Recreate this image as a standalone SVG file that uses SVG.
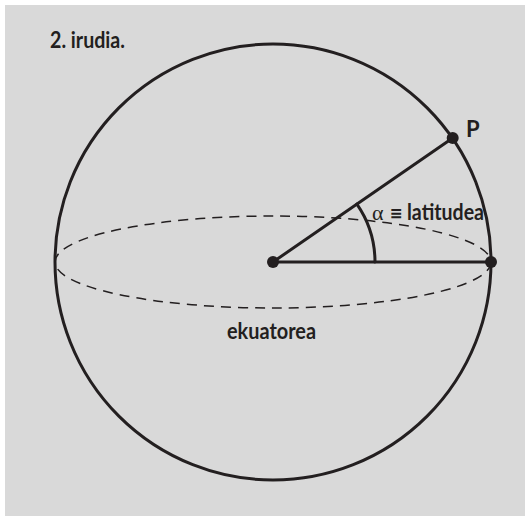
<svg xmlns="http://www.w3.org/2000/svg" width="525" height="516" viewBox="0 0 525 516">
<style>
.ln{fill:none;stroke:#231f20;stroke-width:3;stroke-linecap:round}
.dash{fill:none;stroke:#231f20;stroke-width:1.5;stroke-dasharray:10 7}
.dot{fill:#231f20}
.lbl{font-family:Lato,"Open Sans","Liberation Sans",sans-serif;font-weight:bold;font-size:22px;fill:#231f20}
</style>
<rect x="0" y="0" width="525" height="516" fill="#ffffff"/>
<rect x="5" y="5" width="520" height="511" fill="#d9d9d9"/>
<text class="lbl" x="50" y="48" font-size="23" textLength="75" lengthAdjust="spacingAndGlyphs">2. irudia.</text>
<g id="sphere">
<circle class="ln" cx="273" cy="262" r="218"/>
</g>
<g id="equator">
<ellipse class="dash" cx="273" cy="262" rx="218" ry="46"/>
<text class="lbl" x="227" y="339" textLength="89" lengthAdjust="spacingAndGlyphs">ekuatorea</text>
</g>
<g id="connectors">
<line class="ln" x1="273" y1="262" x2="452.7" y2="138"/>
<line class="ln" x1="273" y1="262" x2="491" y2="262"/>
<path class="ln" stroke-width="2.5" d="M375,262 A102,102 0 0 0 356.9,204.1"/>
</g>
<g id="center">
<circle class="dot" cx="273" cy="262" r="6"/>
</g>
<g id="equator-point">
<circle class="dot" cx="491" cy="262" r="6"/>
</g>
<g id="P">
<circle class="dot" cx="452.7" cy="138" r="6"/>
<text class="lbl" x="466" y="137">P</text>
</g>
<g id="angle-label">
<text x="372" y="220" font-family="'Liberation Serif',serif" font-size="22" fill="#231f20">α</text>
<text class="lbl" x="390" y="221" font-size="26" font-weight="900">≡</text>
<text class="lbl" x="407" y="220" textLength="77" lengthAdjust="spacingAndGlyphs">latitudea</text>
</g>
</svg>
